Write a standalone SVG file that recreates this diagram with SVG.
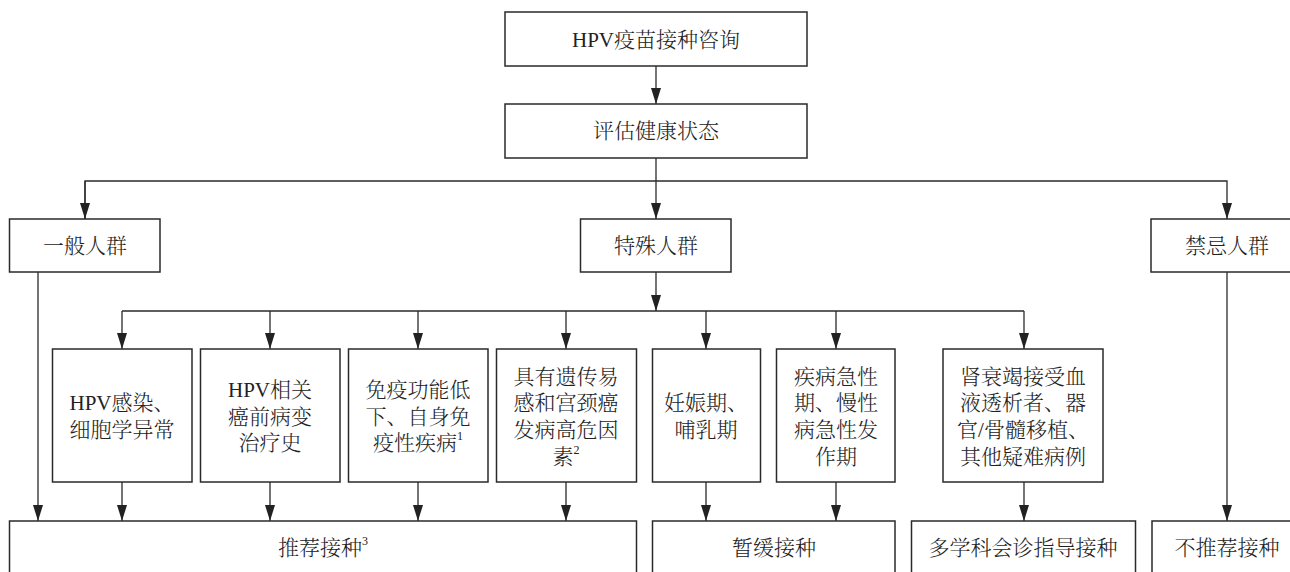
<svg xmlns="http://www.w3.org/2000/svg" width="1290" height="572" viewBox="0 0 1290 572">
<style>
.box{fill:#fff;stroke:#2a2a2a;stroke-width:1.5}
.t{font-family:"Liberation Serif","Noto Serif CJK SC","Noto Sans CJK SC",serif;font-size:21px;font-weight:300;fill:#222;text-anchor:middle;dominant-baseline:central}
.sup{font-size:12px}
.c{fill:none;stroke:#2a2a2a;stroke-width:1.3}
</style>
<defs>
<marker id="ah" markerUnits="userSpaceOnUse" markerWidth="16" markerHeight="10" refX="16" refY="5" orient="auto">
<path d="M0,0 L16,5 L0,10 Z" fill="#222"/>
</marker>
</defs>
<rect width="1290" height="572" fill="#fff"/>
<g id="connectors">
<line class="c" x1="656" y1="66" x2="656" y2="104" marker-end="url(#ah)"/>
<line class="c" x1="656" y1="158" x2="656" y2="219" marker-end="url(#ah)"/>
<polyline class="c" points="85,219 85,181 1227,181 1227,219" marker-end="url(#ah)"/>
<line class="c" x1="85" y1="181" x2="85" y2="219" marker-end="url(#ah)"/>
<line class="c" x1="38" y1="272" x2="38" y2="521" marker-end="url(#ah)"/>
<line class="c" x1="1227" y1="272" x2="1227" y2="521" marker-end="url(#ah)"/>
<line class="c" x1="656" y1="272" x2="656" y2="311" marker-end="url(#ah)"/>
<line class="c" x1="122" y1="311" x2="1024" y2="311"/>
<line class="c" x1="122" y1="311" x2="122" y2="349" marker-end="url(#ah)"/>
<line class="c" x1="270" y1="311" x2="270" y2="349" marker-end="url(#ah)"/>
<line class="c" x1="418" y1="311" x2="418" y2="349" marker-end="url(#ah)"/>
<line class="c" x1="566" y1="311" x2="566" y2="349" marker-end="url(#ah)"/>
<line class="c" x1="706" y1="311" x2="706" y2="349" marker-end="url(#ah)"/>
<line class="c" x1="836" y1="311" x2="836" y2="349" marker-end="url(#ah)"/>
<line class="c" x1="1024" y1="311" x2="1024" y2="349" marker-end="url(#ah)"/>
<line class="c" x1="122" y1="482" x2="122" y2="521" marker-end="url(#ah)"/>
<line class="c" x1="270" y1="482" x2="270" y2="521" marker-end="url(#ah)"/>
<line class="c" x1="418" y1="482" x2="418" y2="521" marker-end="url(#ah)"/>
<line class="c" x1="566" y1="482" x2="566" y2="521" marker-end="url(#ah)"/>
<line class="c" x1="706" y1="482" x2="706" y2="521" marker-end="url(#ah)"/>
<line class="c" x1="836" y1="482" x2="836" y2="521" marker-end="url(#ah)"/>
<line class="c" x1="1024" y1="482" x2="1024" y2="521" marker-end="url(#ah)"/>
</g>
<g id="n-consult"><rect class="box" x="505" y="12" width="302" height="54"/><text class="t" x="656" y="40">HPV疫苗接种咨询</text></g>
<g id="n-assess"><rect class="box" x="505" y="104" width="302" height="54"/><text class="t" x="656" y="131">评估健康状态</text></g>
<g id="n-general"><rect class="box" x="9.5" y="219" width="150.5" height="53"/><text class="t" x="85" y="246">一般人群</text></g>
<g id="n-special"><rect class="box" x="580.5" y="219" width="150.5" height="53"/><text class="t" x="656" y="246">特殊人群</text></g>
<g id="n-contra"><rect class="box" x="1151" y="219" width="151" height="53"/><text class="t" x="1227" y="246">禁忌人群</text></g>
<g id="n-c1"><rect class="box" x="52.5" y="349" width="139.5" height="133"/><text class="t" x="122" y="403">HPV感染、</text><text class="t" x="122" y="430">细胞学异常</text></g>
<g id="n-c2"><rect class="box" x="200.5" y="349" width="139.5" height="133"/><text class="t" x="270" y="390">HPV相关</text><text class="t" x="270" y="417">癌前病变</text><text class="t" x="270" y="443">治疗史</text></g>
<g id="n-c3"><rect class="box" x="348.5" y="349" width="139.5" height="133"/><text class="t" x="418" y="390">免疫功能低</text><text class="t" x="418" y="417">下、自身免</text><text class="t" x="418" y="443">疫性疾病<tspan class="sup" dy="-7">1</tspan></text></g>
<g id="n-c4"><rect class="box" x="496.5" y="349" width="140" height="133"/><text class="t" x="566" y="377">具有遗传易</text><text class="t" x="566" y="403">感和宫颈癌</text><text class="t" x="566" y="430">发病高危因</text><text class="t" x="566" y="457">素<tspan class="sup" dy="-7">2</tspan></text></g>
<g id="n-c5"><rect class="box" x="652.5" y="349" width="108" height="133"/><text class="t" x="706" y="403">妊娠期、</text><text class="t" x="706" y="430">哺乳期</text></g>
<g id="n-c6"><rect class="box" x="776.5" y="349" width="118.5" height="133"/><text class="t" x="836" y="377">疾病急性</text><text class="t" x="836" y="403">期、慢性</text><text class="t" x="836" y="430">病急性发</text><text class="t" x="836" y="457">作期</text></g>
<g id="n-c7"><rect class="box" x="943" y="349" width="160" height="133"/><text class="t" x="1023" y="377">肾衰竭接受血</text><text class="t" x="1023" y="403">液透析者、器</text><text class="t" x="1023" y="430">官/骨髓移植、</text><text class="t" x="1023" y="457">其他疑难病例</text></g>
<g id="n-recommend"><rect class="box" x="9.5" y="521" width="627" height="56"/><text class="t" x="323" y="548">推荐接种<tspan class="sup" dy="-7">3</tspan></text></g>
<g id="n-defer"><rect class="box" x="652.5" y="521" width="242.5" height="56"/><text class="t" x="774" y="548">暂缓接种</text></g>
<g id="n-mdt"><rect class="box" x="911.5" y="521" width="224" height="56"/><text class="t" x="1023" y="548">多学科会诊指导接种</text></g>
<g id="n-notrec"><rect class="box" x="1152" y="521" width="150" height="56"/><text class="t" x="1227" y="548">不推荐接种</text></g>
</svg>
